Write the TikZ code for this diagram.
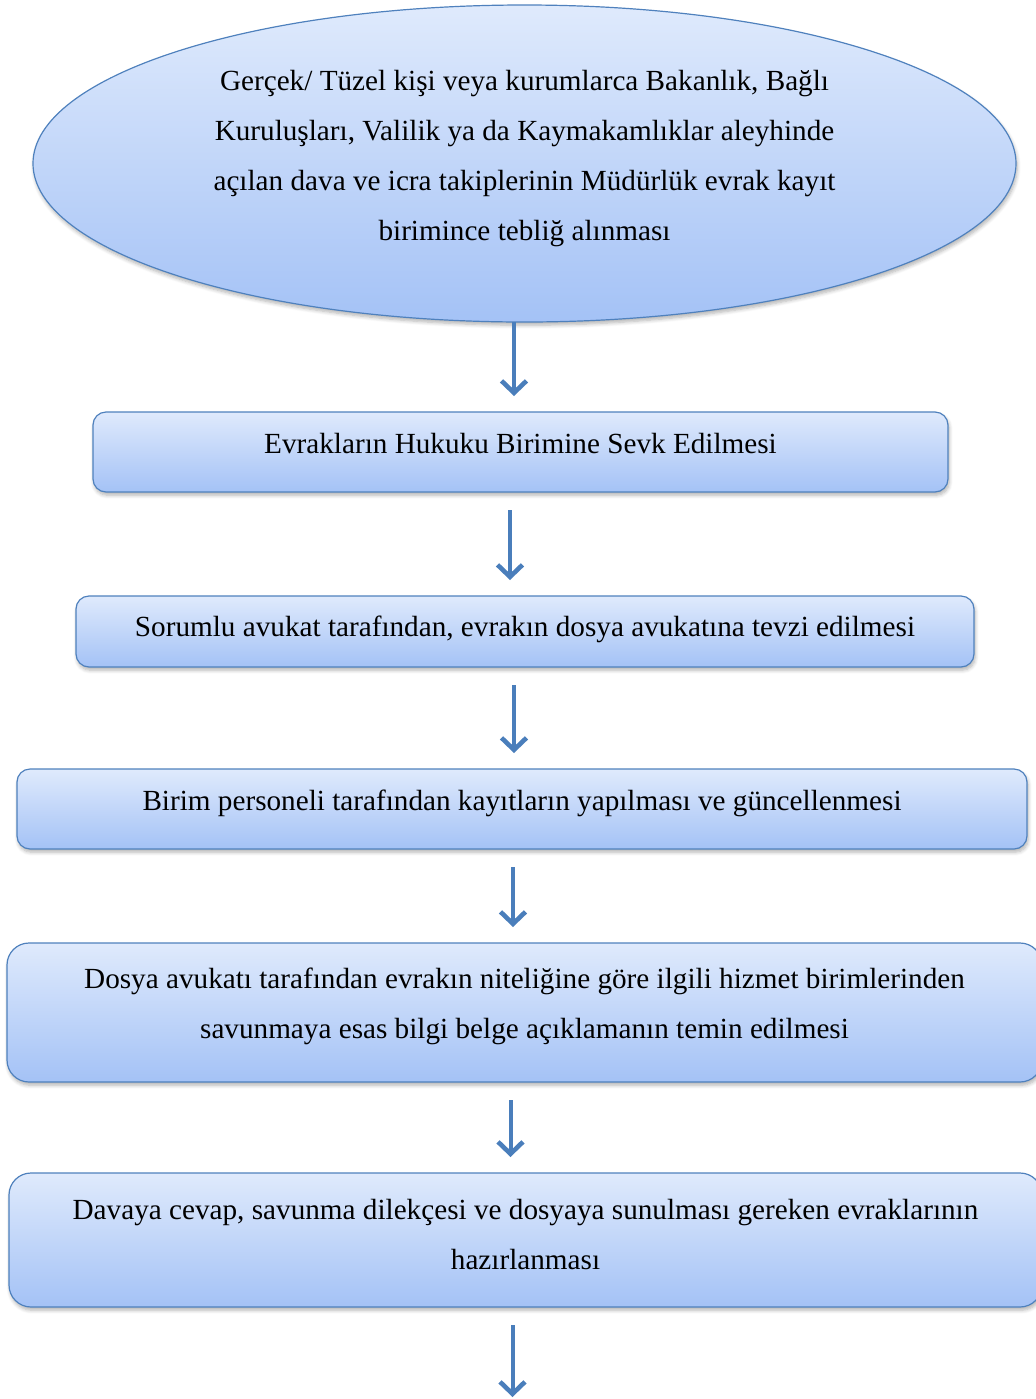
\documentclass[tikz,border=0pt]{standalone}
\usepackage{fontspec}
\setmainfont{Liberation Serif}
\usetikzlibrary{positioning,shapes.geometric,arrows.meta,shadows.blur}

\definecolor{kenar}{RGB}{79,129,189}
\definecolor{ustrenk}{RGB}{223,234,252}
\definecolor{altrenk}{RGB}{164,194,246}
\definecolor{okrenk}{RGB}{74,126,187}

\tikzset{
	adim/.style={draw=kenar, line width=0.6pt, outer sep=0pt, top color=ustrenk, bottom color=altrenk,
		rounded corners=6.5pt,
		blur shadow={shadow xshift=0.6pt, shadow yshift=-1.6pt, shadow blur steps=6, shadow opacity=30}},
	yazi/.style={align=center, font=\fontsize{14.6}{25}\selectfont, inner sep=0pt},
	akis/.style={draw=okrenk, line width=2pt, -{Straight Barb[length=6pt,width=12.5pt,line width=2.3pt]},
		shorten >=8pt, shorten <=9pt},
}

\begin{document}
\begin{tikzpicture}[x=0.5pt, y=-0.5pt]
	\useasboundingbox (0,0) rectangle (1036,1399);
	
	% 1. başlangıç elipsi
	\node [adim, ellipse, sharp corners, minimum width=491.5pt, minimum height=158.5pt] (bas) at (524.5,163.5) {};
	\node [yazi] (basyazi) at ([yshift=2.5pt]bas.center) {Gerçek/ Tüzel kişi veya kurumlarca Bakanlık, Bağlı\\
		Kuruluşları, Valilik ya da Kaymakamlıklar aleyhinde\\
		açılan dava ve icra takiplerinin Müdürlük evrak kayıt\\
		birimince tebliğ alınması};
	
	% 2. adım kutuları (alt alta)
	\node [adim, below=45pt of bas, xshift=-2pt, minimum width=427.5pt, minimum height=40pt] (adim1) {};
	\node [adim, below=52pt of adim1, xshift=2.25pt, minimum width=449pt, minimum height=35.5pt] (adim2) {};
	\node [adim, below=51pt of adim2, xshift=-1.5pt, minimum width=505pt, minimum height=40pt] (adim3) {};
	\node [adim, below=47pt of adim3, xshift=1.25pt, minimum width=517.5pt, minimum height=69.5pt, rounded corners=11pt] (adim4) {};
	\node [adim, below=45.5pt of adim4, xshift=0.5pt, minimum width=516.5pt, minimum height=67pt, rounded corners=11pt] (adim5) {};
	
	% kutu yazıları (üste yakın)
	\node [yazi] (yazi1) at ([yshift=-16pt]adim1.north) {Evrakların Hukuku Birimine Sevk Edilmesi};
	\node [yazi] (yazi2) at ([yshift=-16.5pt]adim2.north) {Sorumlu avukat tarafından, evrakın dosya avukatına tevzi edilmesi};
	\node [yazi] (yazi3) at ([yshift=-17pt]adim3.north) {Birim personeli tarafından kayıtların yapılması ve güncellenmesi};
	\node [yazi] (yazi4) at ([yshift=-31.5pt]adim4.north) {Dosya avukatı tarafından evrakın niteliğine göre ilgili hizmet birimlerinden\\
		savunmaya esas bilgi belge açıklamanın temin edilmesi};
	\node [yazi] (yazi5) at ([yshift=-30.5pt]adim5.north) {Davaya cevap, savunma dilekçesi ve dosyaya sunulması gereken evraklarının\\
		hazırlanması};
	
	% 3. oklar
	\coordinate (son) at ([shift={(-6.5pt,-45pt)}]adim5.south);
	\draw [akis, shorten <=0pt] ([xshift=-5.25pt]bas.south) -- ([xshift=-5.25pt]bas.south |- adim1.north);
	\draw [akis] ([xshift=-5.25pt]adim1.south) -- ([xshift=-5.25pt]adim1.south |- adim2.north);
	\draw [akis] ([xshift=-5.5pt]adim2.south) -- ([xshift=-5.5pt]adim2.south |- adim3.north);
	\draw [akis] ([xshift=-4.5pt]adim3.south) -- ([xshift=-4.5pt]adim3.south |- adim4.north);
	\draw [akis] ([xshift=-7pt]adim4.south) -- ([xshift=-7pt]adim4.south |- adim5.north);
	\draw [akis, shorten >=0pt] ([xshift=-6.5pt]adim5.south) -- (son);
\end{tikzpicture}
\end{document}
